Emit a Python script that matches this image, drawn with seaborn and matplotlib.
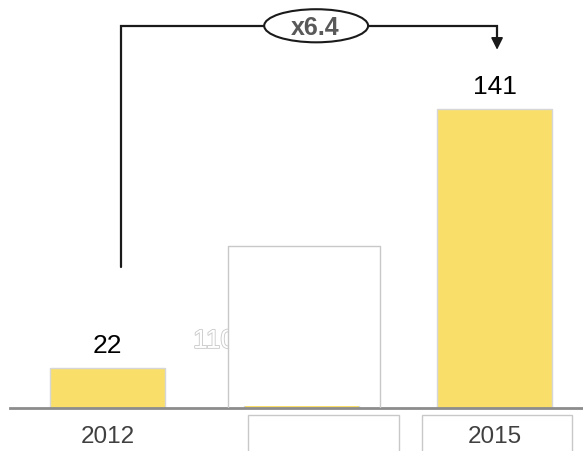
import pandas as pd
import seaborn as sns
import matplotlib.pyplot as plt
from matplotlib.patches import Rectangle, Ellipse
import matplotlib.patheffects as pe

# chart data
years = ["2012", "", "2015"]
values = [22, 24, 141]          # middle bar is hidden under a white box
value_labels = ["22", "", "141"]
hidden_label = "110"
ratio_text = "x6.4"

sns.set_style("white")
plt.rcParams['font.family'] = ['Liberation Sans', 'DejaVu Sans']

bar_color = '#F9DF6A'
y_base = 3.6

fig = plt.figure(figsize=(5.83, 4.52), dpi=100)
ax = fig.add_axes([10 / 583, 43 / 452, 573 / 583, 409 / 452])

df = pd.DataFrame({'year': years, 'value': values})
sns.barplot(data=df, x='year', y='value', color=bar_color, saturation=1,
            width=0.594, edgecolor='#d6d6d6', linewidth=1, ax=ax)

ax.set_xlim(-0.504, 2.457)
ax.set_ylim(y_base, 191.5)

# value labels
ax.bar_label(ax.containers[0], labels=value_labels, padding=8,
             fontsize=19, color='black')

# partly hidden label of the middle bar
ax.text(0.442, 34.4, hidden_label, fontsize=19, color='white', ha='left', va='center',
        zorder=3, path_effects=[pe.withStroke(linewidth=1.2, foreground='#c8c8c8')])

# white box over the middle bar
ax.add_patch(Rectangle((0.623, 4.4), 1.408 - 0.623, 78 - 4.4, facecolor='white',
                       edgecolor='none', zorder=4))
ax.plot([0.623, 0.623, 1.408, 1.408], [y_base + 0.3, 78, 78, y_base + 0.3],
        color='#c8c8c8', lw=1, zorder=4.1)

# boxes under the labels
for x0, x1 in [(0.726, 1.506), (1.625, 2.401)]:
    ax.add_patch(Rectangle((x0, 0.38), x1 - x0, -30, facecolor='white',
                           edgecolor='#c8c8c8', lw=1, clip_on=False, zorder=0.5))

# bracket with the growth factor
x_left, x_right = 0.070, 2.013
y_top = 179.2
ax.plot([x_left, x_left, x_right, x_right], [68.4, y_top, y_top, 171],
        color='#1a1a1a', lw=1.6, solid_joinstyle='miter', zorder=5)
ax.annotate('', xy=(x_right, 168.2), xytext=(x_right, 173.5),
            arrowprops=dict(arrowstyle='-|>', color='#1a1a1a', lw=1.2,
                            mutation_scale=18, shrinkA=0, shrinkB=0), zorder=5)
ax.add_patch(Ellipse((1.078, y_top), 0.537, 15.2, facecolor='white',
                     edgecolor='#1a1a1a', lw=1.5, zorder=6))
ax.text(1.075, y_top - 0.6, ratio_text, fontsize=18, fontweight='bold', color='#595959',
        ha='center', va='center', zorder=7)

# axis styling
for side in ['top', 'left', 'right']:
    ax.spines[side].set_visible(False)
ax.spines['bottom'].set_color('#8c8c8c')
ax.spines['bottom'].set_linewidth(2)
ax.spines['bottom'].set_zorder(3)
ax.set_yticks([])
ax.set_xlabel('')
ax.set_ylabel('')
ax.tick_params(axis='x', length=0, pad=12, labelsize=17.5, labelcolor='#404040')

fig.savefig('out.png', dpi=100)
